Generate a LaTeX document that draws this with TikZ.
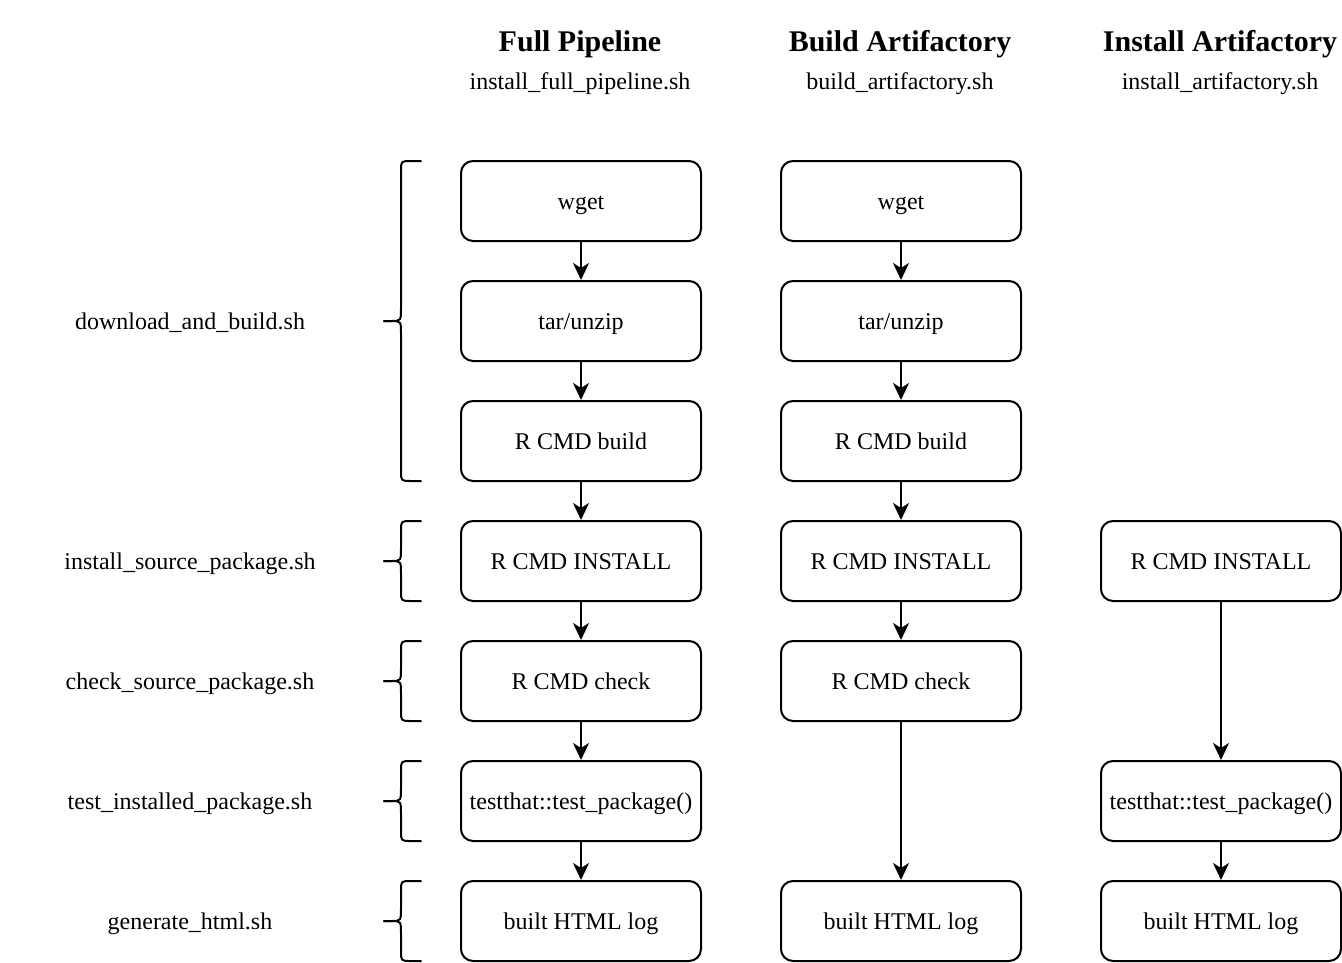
\documentclass[tikz,border=0pt]{standalone}
\usepackage{fontspec}
\setmainfont{Liberation Serif}
\usetikzlibrary{arrows.meta}
\newcommand\drawbrace[2]{%
  \pgfmathsetmacro\bm{(#1+#2)/2}%
  \draw[bracestyle] (421,#1) -- (411,#1) .. controls (401,#1) .. (401,#1+10)
    -- (401,\bm-13) .. controls (401,\bm) .. (391,\bm) -- (384,\bm);
  \draw[bracestyle] (384,\bm) -- (391,\bm) .. controls (401,\bm) .. (401,\bm+13)
    -- (401,#2-10) .. controls (401,#2) .. (411,#2) -- (421,#2);
}
\begin{document}
\begin{tikzpicture}[x=1pt,y=-1pt,
  stepbox/.style={draw=black, line width=2pt, rounded corners=12pt,
    minimum width=240pt, minimum height=80pt, inner sep=0pt,
    text height=20pt, text depth=4pt,
    font=\fontsize{24}{28}\selectfont},
  headtxt/.style={font=\fontsize{30}{34}\selectfont\bfseries, inner sep=0pt,
    text height=25pt, text depth=4pt},
  subtxt/.style={font=\fontsize{24}{28}\selectfont, inner sep=0pt,
    text height=20pt, text depth=4pt},
  lbl/.style={font=\fontsize{24}{28}\selectfont, inner sep=0pt,
    text height=20pt, text depth=4pt},
  flow/.style={line width=2pt, -{Stealth[length=17pt,width=16pt,inset=5pt]}},
  bracestyle/.style={line width=2pt, line cap=round, line join=round}]
\useasboundingbox (0,0) rectangle (1342,962);

% headers
\node[headtxt] (h1) at (580,41) {Full Pipeline};
\node[subtxt]  (s1) at (580,81) {install\_full\_pipeline.sh};
\node[headtxt] (h2) at (900,41) {Build Artifactory};
\node[subtxt]  (s2) at (900,81) {build\_artifactory.sh};
\node[headtxt] (h3) at (1220,41) {Install Artifactory};
\node[subtxt]  (s3) at (1220,81) {install\_artifactory.sh};

% left labels
\node[lbl] (L1) at (190,321) {download\_and\_build.sh};
\node[lbl] (L2) at (190,561) {install\_source\_package.sh};
\node[lbl] (L3) at (190,681) {check\_source\_package.sh};
\node[lbl] (L4) at (190,801) {test\_installed\_package.sh};
\node[lbl] (L5) at (190,921) {generate\_html.sh};

% braces
\drawbrace{161}{481}
\drawbrace{521}{601}
\drawbrace{641}{721}
\drawbrace{761}{841}
\drawbrace{881}{961}

% column 1
\node[stepbox] (w1) at (581,201) {wget};
\node[stepbox] (t1) at (581,321) {tar/unzip};
\node[stepbox] (b1) at (581,441) {R CMD build};
\node[stepbox] (i1) at (581,561) {R CMD INSTALL};
\node[stepbox] (c1) at (581,681) {R CMD check};
\node[stepbox] (p1) at (581,801) {testthat::test\_package()};
\node[stepbox] (g1) at (581,921) {built HTML log};

% column 2
\node[stepbox] (w2) at (901,201) {wget};
\node[stepbox] (t2) at (901,321) {tar/unzip};
\node[stepbox] (b2) at (901,441) {R CMD build};
\node[stepbox] (i2) at (901,561) {R CMD INSTALL};
\node[stepbox] (c2) at (901,681) {R CMD check};
\node[stepbox] (g2) at (901,921) {built HTML log};

% column 3
\node[stepbox] (i3) at (1221,561) {R CMD INSTALL};
\node[stepbox] (p3) at (1221,801) {testthat::test\_package()};
\node[stepbox] (g3) at (1221,921) {built HTML log};

% connectors
\draw[flow] (w1) -- (t1);
\draw[flow] (t1) -- (b1);
\draw[flow] (b1) -- (i1);
\draw[flow] (i1) -- (c1);
\draw[flow] (c1) -- (p1);
\draw[flow] (p1) -- (g1);

\draw[flow] (w2) -- (t2);
\draw[flow] (t2) -- (b2);
\draw[flow] (b2) -- (i2);
\draw[flow] (i2) -- (c2);
\draw[flow] (c2) -- (g2);

\draw[flow] (i3) -- (p3);
\draw[flow] (p3) -- (g3);
\end{tikzpicture}
\end{document}
